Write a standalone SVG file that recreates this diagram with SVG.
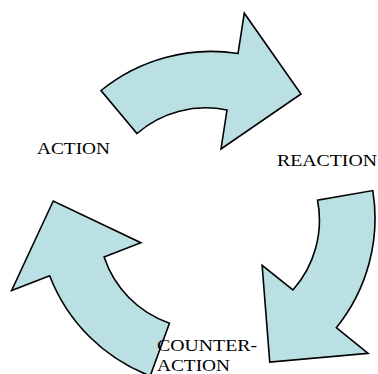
<svg xmlns="http://www.w3.org/2000/svg" xmlns:xlink="http://www.w3.org/1999/xlink" width="378" height="374" viewBox="0 0 378 374">
<style>
.arrow{fill:#bbe0e3;stroke:#000;stroke-width:1.6;stroke-linejoin:miter}
.lbl{font-family:"Liberation Serif","Times New Roman",serif;font-size:16.5px;fill:#000}
</style>
<defs>
<path id="arw" d="M101,90.5 A174,174 0 0 1 238,53.5 L244.3,13.2 L301,94 L221,149 L227,110 A105,105 0 0 0 137,133.5 Z"/>
</defs>
<rect width="378" height="374" fill="#fff"/>
<g id="connectors">
<use xlink:href="#arw" href="#arw" class="arrow"/>
<use xlink:href="#arw" href="#arw" class="arrow" transform="rotate(120 208 219)"/>
<use xlink:href="#arw" href="#arw" class="arrow" transform="rotate(240 208 219)"/>
</g>
<g id="action">
<text class="lbl" x="37" y="154" textLength="73" lengthAdjust="spacingAndGlyphs">ACTION</text>
</g>
<g id="reaction">
<text class="lbl" x="277" y="166" textLength="100" lengthAdjust="spacingAndGlyphs">REACTION</text>
</g>
<g id="counter-action">
<text class="lbl" x="157" y="351" textLength="100" lengthAdjust="spacingAndGlyphs">COUNTER-</text>
<text class="lbl" x="157" y="371" textLength="73" lengthAdjust="spacingAndGlyphs">ACTION</text>
</g>
</svg>
